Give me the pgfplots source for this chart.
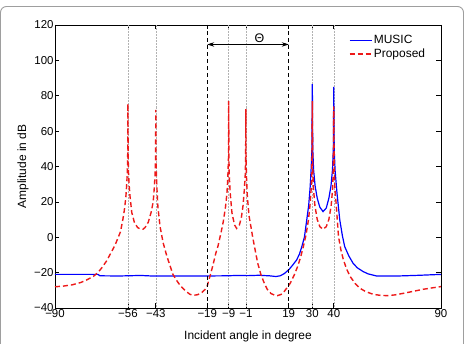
\documentclass[border=0pt]{standalone}
\usepackage{pgfplots}
\pgfplotsset{compat=1.18}
\usepackage{fontspec}
\setmainfont{Liberation Sans}
\usetikzlibrary{arrows.meta}

\definecolor{musicblue}{rgb}{0,0,1}
\definecolor{propred}{rgb}{0.93,0.1,0.1}
\definecolor{framegray}{gray}{0.62}

% Spatial spectrum of the MUSIC estimator (dB)
\pgfplotstableread{
x y
-90 -21
-80 -21
-70 -21
-69 -21.8
-60 -21.9
-50 -21.6
-45 -21.9
-30 -21.9
-20 -21.9
-10 -21.8
-5 -21.6
0 -21.7
5 -21.5
10 -21.8
13 -22.2
15 -21.8
17 -20.5
19.3 -18
21 -15.5
22.7 -12.8
24 -9.5
25.1 -5.3
26.3 0
27.4 9.8
28.3 18
29 28.6
29.5 40
29.8 50
30 86.5
30.2 50
30.6 38
31.3 29
32.3 22
33.5 17
35 14.5
36.5 16.5
37.7 22
38.7 29
39.4 38
39.8 50
40 85
40.2 50
40.6 38
41.5 25
42.8 9.8
44 1
45.1 -5.3
47 -10.5
49 -14.7
51 -17.3
53.7 -19.4
56 -20.7
60 -21.9
70 -21.9
80 -21.5
90 -21
}\musictable

% Spatial spectrum of the proposed estimator (dB)
\pgfplotstableread{
x y
-90 -28
-86 -27.6
-82 -26.9
-78 -25.6
-75 -24
-72 -22
-70 -20
-68 -17
-66 -13.5
-64 -9
-62 -4.5
-60.5 0
-59.5 3
-58.5 9
-57.7 15
-57 22
-56.6 29
-56.3 36
-56.1 46
-56 75.5
-55.9 46
-55.7 36
-55.4 29
-55 23
-54.2 14
-53 8.5
-51.5 5.5
-50 4.5
-49 4.5
-48 5.5
-46.5 8.5
-45.2 14
-44.2 20
-43.7 28
-43.3 36
-43.1 45
-43 72
-42.9 45
-42.7 36
-42.4 26
-42 17
-41 6
-39.6 -3
-38 -10
-37.2 -13
-35 -21
-33.5 -24
-31.8 -27
-29 -30.5
-27 -32.3
-25.5 -32.8
-23.5 -32.5
-21.5 -31.2
-20 -29.5
-19 -27.5
-17.5 -21
-16.5 -16.5
-15 -9
-14 -5
-12.5 3
-11.5 9
-10.5 17
-9.8 25
-9.4 34
-9.1 45
-9 77
-8.9 45
-8.7 34
-8.3 25
-7.5 14
-6.3 7
-5.3 5
-4 7
-3.1 11
-2.3 18
-1.7 27
-1.3 35
-1.1 44
-1 72.5
-0.9 44
-0.7 34
-0.3 23
0.5 12
1.5 5
2.2 0
3.3 -7
4.5 -14.5
6 -21
7.6 -26
9 -29.5
10.7 -31.8
12.5 -32.8
13.8 -33
15.5 -32.3
17 -30.5
18.5 -28
19.7 -26
21.5 -21.5
23 -17
24.5 -11.5
25.8 -5.3
27 1
28.2 9.8
28.9 18
29.5 28
29.8 40
30 77
30.2 40
30.5 28
31.2 18
32.3 10
33.5 6
35 4.5
36.5 6
37.7 10
38.8 18
39.5 28
39.8 40
40 74
40.2 40
40.5 28
41.1 19
42.2 0.5
43.3 -7
44.5 -12.8
46 -18
47.7 -22.3
50 -26.2
52.3 -28.9
55 -30.8
58.5 -32.3
62 -32.9
65 -33
68.5 -32.6
72.5 -31.7
77 -30.6
81.8 -29.4
86 -28.6
90 -27.9
}\proposedtable

\begin{document}
\begin{tikzpicture}
\useasboundingbox (-55bp,-36bp) rectangle (413bp,308bp);
\draw[framegray, line width=0.9bp, rounded corners=6bp] (-54.5bp,-60bp) rectangle (408.5bp,301.5bp);
\begin{axis}[
  at={(0,0)}, anchor=south west,
  scale only axis,
  width=386bp, height=283bp,
  xmin=-90, xmax=90, ymin=-40, ymax=120,
  xtick={-90,-56,-43,-19,-9,-1,19,30,40,90},
  xticklabels={−90,−56,−43,−19,−9,−1,19,30,40,90},
  ytick={-40,-20,0,20,40,60,80,100,120},
  yticklabels={−40,−20,0,20,40,60,80,100,120},
  tick align=inside,
  major tick length=4.5bp,
  tick style={black, line width=0.6bp},
  axis line style={line width=0.8bp},
  ticklabel style={font=\fontsize{11.5}{13}\selectfont},
  yticklabel style={inner sep=1.2bp},
  xticklabel style={inner sep=1.5bp},
  xlabel={Incident angle in degree},
  ylabel={Amplitude in dB},
  label style={font=\fontsize{12}{14}\selectfont},
  xlabel style={at={(axis description cs:0.5,-0.099)}, anchor=center},
  ylabel style={at={(axis description cs:-0.083,0.5)}, anchor=center},
  legend style={draw=none, fill=none, at={(axis cs:47,115)}, anchor=north west,
    font=\fontsize{12}{14}\selectfont, inner sep=0pt, row sep=0.5bp,
    nodes={inner sep=1.5bp}},
  legend cell align=left,
  legend image code/.code={\draw[#1] (0bp,0bp) -- (22bp,0bp);},
  clip=true,
]
% reference directions
\foreach \a in {-56,-43,-9,-1,30,40} {
  \edef\tmp{\noexpand\draw[gray!60, densely dotted, line width=0.5bp] (axis cs:\a,-40) -- (axis cs:\a,120);}
  \tmp
}
\addplot[musicblue, line width=1.2bp] table[x=x,y=y] {\musictable};
\addlegendentry{MUSIC}
\addplot[propred, line width=1.4bp, dash pattern=on 5bp off 3bp] table[x=x,y=y] {\proposedtable};
\addlegendentry{Proposed}
% angular sector boundaries
\draw[black, line width=1.2bp, dash pattern=on 4bp off 3bp] (axis cs:-19,-40) -- (axis cs:-19,120);
\draw[black, line width=1.2bp, dash pattern=on 4bp off 3bp] (axis cs:19,-40) -- (axis cs:19,120);
\draw[black, line width=0.8bp, {Stealth[length=7bp,width=4.5bp]}-{Stealth[length=7bp,width=4.5bp]}] (axis cs:-19,109) -- (axis cs:19,109);
\node[anchor=south, inner sep=0.5bp, font=\fontsize{12.5}{14}\selectfont] at (axis cs:5.3,109.6) {Θ};
\end{axis}
\end{tikzpicture}
\end{document}
